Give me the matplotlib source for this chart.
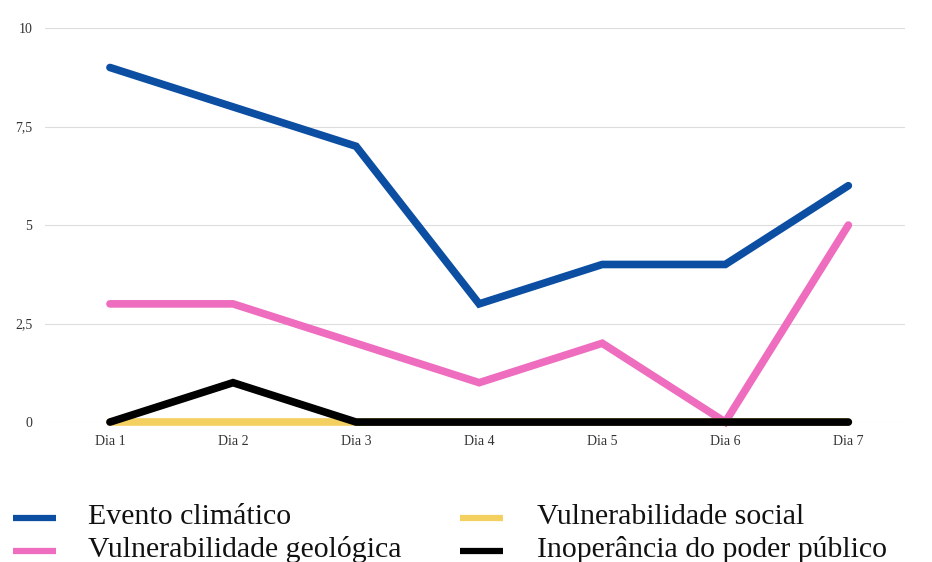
import matplotlib
matplotlib.use("Agg")
import matplotlib.pyplot as plt

plt.rcParams['font.family'] = ['Liberation Serif', 'DejaVu Serif']

dias = ["Dia 1", "Dia 2", "Dia 3", "Dia 4", "Dia 5", "Dia 6", "Dia 7"]
evento_climatico = [9, 8, 7, 3, 4, 4, 6]
vuln_geologica = [3, 3, 2, 1, 2, 0, 5]
vuln_social = [0, 0, 0, 0, 0, 0, 0]
inoperancia = [0, 1, 0, 0, 0, 0, 0]

y_ticks = [0, 2.5, 5, 7.5, 10]
y_labels = ["0", "2,5", "5", "7,5", "10"]

series = [
    ("Evento climático", evento_climatico, "#0b4ea2"),
    ("Vulnerabilidade geológica", vuln_geologica, "#ee6dbf"),
    ("Vulnerabilidade social", vuln_social, "#f3d060"),
    ("Inoperância do poder público", inoperancia, "#000000"),
]

fig = plt.figure(figsize=(9.32, 5.62), dpi=100)
ax = fig.add_axes([0.048, 0.249, 0.923, 0.701])

x = list(range(len(dias)))
handles = []
for name, vals, color in series:
    h, = ax.plot(x, vals, color=color, lw=5.5, solid_capstyle='round',
                 solid_joinstyle='miter', label=name, clip_on=False)
    handles.append(h)

ax.set_xlim(-0.53, 6.46)
ax.set_ylim(0, 10)
ax.set_yticks(y_ticks)
ax.set_yticklabels(y_labels)
ax.set_xticks(x)
ax.set_xticklabels(dias)
ax.tick_params(axis='both', length=0, labelsize=10, colors='#333333')
ax.tick_params(axis='y', pad=9)
ax.tick_params(axis='x', pad=9)
ax.grid(axis='y', color='#dddddd', lw=0.8)
ax.set_axisbelow(True)
for s in ax.spines.values():
    s.set_visible(False)

# Two-column legend below the plot: column 1 holds the first two series,
# column 2 the remaining two.
W, H = 932, 562
col_handle_x = [(13, 56), (460, 503)]
col_text_x = [88, 537]
row_handle_y = [518, 551]
row_base_y = [524, 557]
for i, (h, (name, _, color)) in enumerate(zip(handles, series)):
    col, row = divmod(i, 2)
    x0, x1 = col_handle_x[col]
    hy = 1 - row_handle_y[row] / H
    fig.add_artist(plt.Line2D([x0 / W, x1 / W], [hy, hy], color=color, lw=4.5,
                              solid_capstyle='butt', transform=fig.transFigure))
    fig.text(col_text_x[col] / W, 1 - row_base_y[row] / H, name, fontsize=21.5,
             va='baseline', ha='left', color='#111111')

fig.savefig("out.png", dpi=100, facecolor='white')
